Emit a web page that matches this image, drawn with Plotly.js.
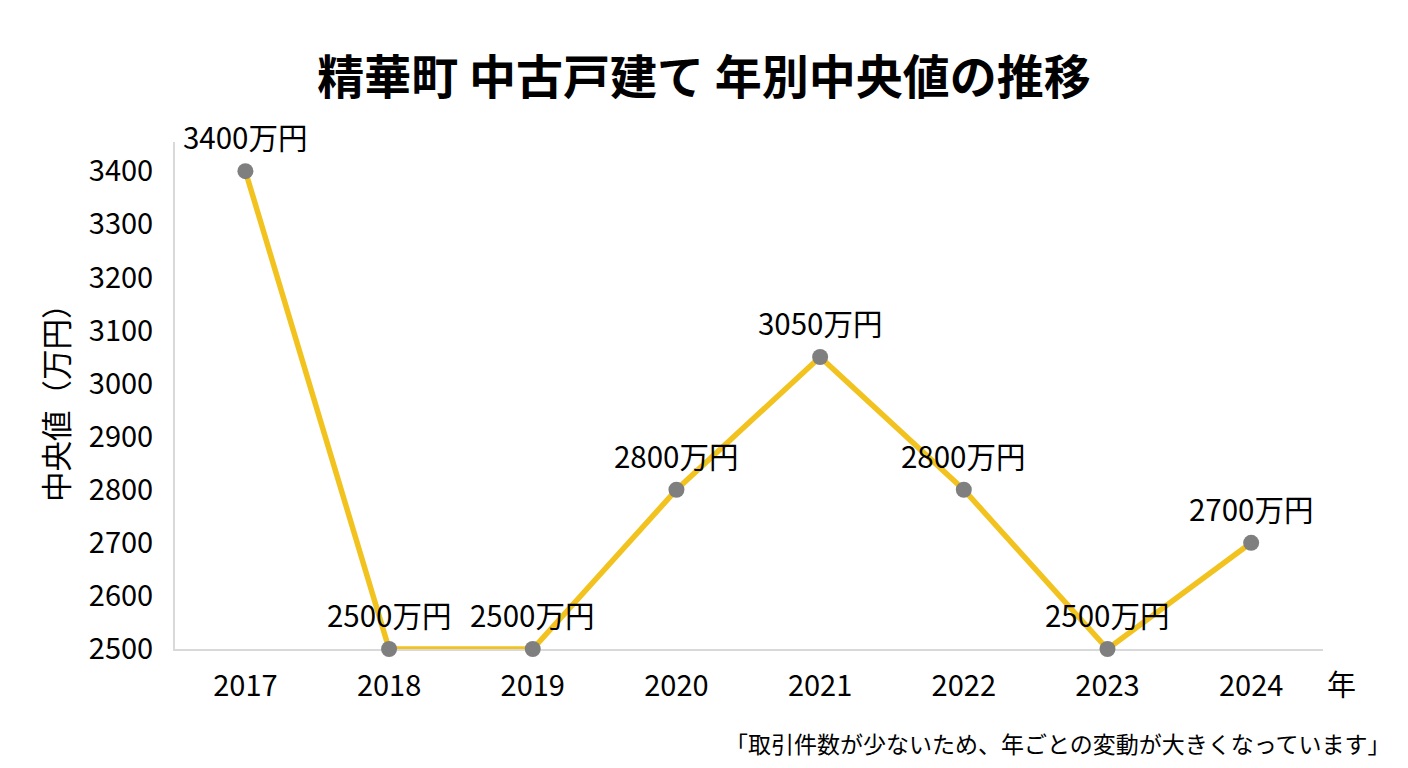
<!DOCTYPE html>
<html>
<head>
<meta charset="utf-8">
<script src="https://cdn.plot.ly/plotly-3.0.1.min.js"></script>
<style>html,body{margin:0;padding:0;background:#fff;}#chart{width:1408px;height:768px;}</style>
</head>
<body>
<div id="chart"></div>
<script>
const years = [2017, 2018, 2019, 2020, 2021, 2022, 2023, 2024];
const medianPrices = [3400, 2500, 2500, 2800, 3050, 2800, 2500, 2700];
const yTicks = [2500, 2600, 2700, 2800, 2900, 3000, 3100, 3200, 3300, 3400];
const priceLabels = medianPrices.map(v => v + '万円');
const titleText = '精華町 中古戸建て 年別中央値の推移';
const yTitleText = '中央値（万円）';
const xUnitText = '年';
const noteText = '「取引件数が少ないため、年ごとの変動が大きくなっています」';

const FONT = '"Noto Sans CJK JP", "Noto Sans", sans-serif';

const trace = {
  x: years,
  y: medianPrices,
  type: 'scatter',
  mode: 'lines+markers',
  line: {color: '#F2C31F', width: 5.5},
  marker: {color: '#7F7F7F', size: 16},
  cliponaxis: false,
  hoverinfo: 'skip'
};

const labelAnnotations = years.map((yr, i) => ({
  x: yr, y: medianPrices[i], xref: 'x', yref: 'y',
  text: priceLabels[i], showarrow: false, yshift: 35,
  font: {family: FONT, size: 29.5, color: '#000'}
}));

const layout = {
  width: 1408, height: 768,
  paper_bgcolor: '#fff', plot_bgcolor: '#fff',
  margin: {l: 175, r: 85, t: 142, b: 119},
  showlegend: false,
  font: {family: FONT, color: '#000'},
  title: {
    text: '<b>' + titleText + '</b>',
    font: {family: FONT, size: 47, color: '#000'},
    x: 0.5, xanchor: 'center', xref: 'container',
    y: 1 - 78 / 768, yanchor: 'middle', yref: 'container'
  },
  xaxis: {
    range: [2016.51, 2024.5],
    tickmode: 'array', tickvals: years, ticktext: years.map(String),
    showgrid: false, zeroline: false,
    showline: true, linecolor: '#D9D9D9', linewidth: 2,
    ticks: '', ticklabelstandoff: 10,
    tickfont: {family: FONT, size: 29, color: '#000'},
    layer: 'below traces', fixedrange: true
  },
  yaxis: {
    range: [2500, 3455],
    tickmode: 'array', tickvals: yTicks, ticktext: yTicks.map(String),
    showgrid: false, zeroline: false,
    showline: true, linecolor: '#D9D9D9', linewidth: 2,
    ticks: '', ticklabelstandoff: 14,
    tickfont: {family: FONT, size: 29, color: '#000'},
    layer: 'below traces', fixedrange: true
  },
  annotations: labelAnnotations.concat([
    {
      xref: 'paper', yref: 'paper',
      x: (55 - 175) / 1148, y: (649 - 395) / 507,
      text: yTitleText, textangle: -90, showarrow: false,
      xanchor: 'center', yanchor: 'middle',
      font: {family: FONT, size: 30.5, color: '#000'}
    },
    {
      xref: 'paper', yref: 'paper',
      x: (1341 - 175) / 1148, y: (649 - 683) / 507,
      text: xUnitText, showarrow: false,
      xanchor: 'center', yanchor: 'middle',
      font: {family: FONT, size: 29, color: '#000'}
    },
    {
      xref: 'paper', yref: 'paper',
      x: (1393 - 175) / 1148, y: (649 - 743) / 507,
      text: noteText, showarrow: false,
      xanchor: 'right', yanchor: 'middle',
      font: {family: FONT, size: 23, color: '#000'}
    }
  ])
};

Plotly.newPlot('chart', [trace], layout, {displayModeBar: false, staticPlot: true});
</script>
</body>
</html>
